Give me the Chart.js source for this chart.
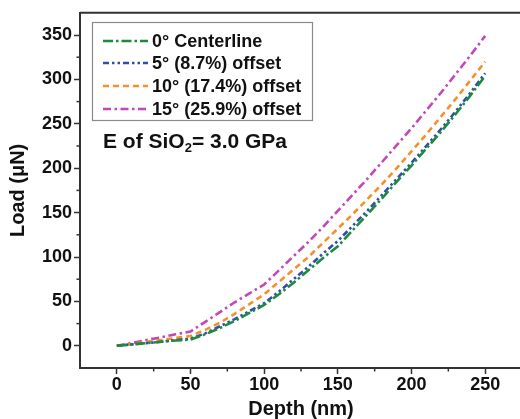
<!DOCTYPE html>
<html><head><meta charset="utf-8">
<script src="https://cdn.jsdelivr.net/npm/chart.js@4"></script>
<style>html,body{margin:0;padding:0;background:#fff;}#wrap{width:520px;height:419px;overflow:hidden;position:relative;}canvas{display:block;}</style>
</head><body>
<div id="wrap"><canvas id="c" width="526" height="419" style="width:526px;height:419px"></canvas></div>
<script>
const depth = [0,10,20,30,40,50,60,70,80,90,100,110,120,130,140,150,160,170,180,190,200,210,220,230,240,250];
const load0  = [0,1.5,3,4.5,6,7,13,20,28,37,46,58,71,85,99,112,130,148,166,185,203,222,241,261,282,304];
const load5  = [0,1.5,3,4.5,6.5,8,14,22,30,39,48,61,75,89,104,118,135,152,170,188,206,225,244,264,285,307];
const load10 = [0,2,4.5,6.5,9,11,18,26,36,47,58,72,86,100,116,132,148,165,182,200,219,238,258,278,299,320];
const load15 = [0,3,6.5,9.5,13,16,27,38,49,59,69,85,101,117,134,152,170,188,207,226,245,265,285,306,327,349];
const seriesLabels = ['0° Centerline','5° (8.7%) offset','10° (17.4%) offset','15° (25.9%) offset'];
const xTicks = [0,50,100,150,200,250];
const yTicks = [0,50,100,150,200,250,300,350];
const xMinor = [25,75,125,175,225];
const yMinor = [25,75,125,175,225,275,325];

const colors = ['#1f8a3c','#2c4fae','#f5902c','#c447b8'];
const dashes = [[10,3,2.5,3],[6,3,2.5,3,2.5,3],[6,4],[8,3.5,2.5,3.5]];
const FONT = "'Liberation Sans', Arial, sans-serif";
const allData = [load0, load5, load10, load15];

const datasets = allData.map((arr, i) => ({
  label: seriesLabels[i],
  data: depth.map((d, j) => ({x: d, y: arr[j]})),
  borderColor: colors[i],
  backgroundColor: colors[i],
  borderWidth: 2.6,
  borderDash: dashes[i],
  pointRadius: 0,
  tension: 0,
  fill: false
}));

const extras = {
  id: 'extras',
  afterDraw(chart) {
    const ctx = chart.ctx, ca = chart.chartArea;
    const xs = chart.scales.x, ys = chart.scales.y;
    ctx.save();
    ctx.strokeStyle = '#333'; ctx.lineWidth = 2;
    ctx.beginPath(); ctx.moveTo(ca.left, ca.top); ctx.lineTo(ca.right, ca.top); ctx.lineTo(ca.right, ca.bottom); ctx.stroke();
    ctx.lineWidth = 1.5;
    xMinor.forEach(v => { const px = xs.getPixelForValue(v); ctx.beginPath(); ctx.moveTo(px, ca.bottom); ctx.lineTo(px, ca.bottom + 3.5); ctx.stroke(); });
    yMinor.forEach(v => { const py = ys.getPixelForValue(v); ctx.beginPath(); ctx.moveTo(ca.left, py); ctx.lineTo(ca.left - 3.5, py); ctx.stroke(); });
    ctx.strokeStyle = '#8a8a8a'; ctx.lineWidth = 1.2;
    ctx.strokeRect(92.5, 22.5, 220, 98);
    const rows = [41, 63, 86, 109];
    const base = [47, 69, 92, 115];
    ctx.font = "bold 18px " + FONT;
    ctx.textBaseline = 'alphabetic'; ctx.textAlign = 'left';
    rows.forEach((ry, i) => {
      ctx.strokeStyle = colors[i]; ctx.lineWidth = 2.6; ctx.setLineDash(dashes[i]);
      ctx.beginPath(); ctx.moveTo(103, ry); ctx.lineTo(148, ry); ctx.stroke();
      ctx.setLineDash([]);
      ctx.fillStyle = '#111';
      ctx.fillText(seriesLabels[i], 152, base[i]);
    });
    ctx.fillStyle = '#111';
    ctx.font = "bold 21px " + FONT;
    let x = 103; const y = 148;
    const t1 = 'E of SiO';
    ctx.fillText(t1, x, y); x += ctx.measureText(t1).width;
    ctx.font = "bold 13px " + FONT;
    ctx.fillText('2', x, y + 4); x += ctx.measureText('2').width;
    ctx.font = "bold 21px " + FONT;
    ctx.fillText('= 3.0 GPa', x, y);
    ctx.restore();
  }
};

new Chart(document.getElementById('c'), {
  type: 'line',
  data: { datasets },
  options: {
    responsive: false,
    animation: false,
    layout: { padding: { left: 0, top: 12, right: 4, bottom: 0 } },
    plugins: { legend: { display: false }, tooltip: { enabled: false } },
    scales: {
      x: {
        type: 'linear', min: -25, max: 275,
        afterBuildTicks: s => { s.ticks = xTicks.map(v => ({value: v})); },
        afterFit: s => { s.height = 51; },
        border: { color: '#333', width: 2 },
        grid: { drawOnChartArea: false, drawTicks: true, tickLength: 6, tickColor: '#333', tickWidth: 1.5 },
        ticks: { color: '#111', font: { family: FONT, size: 18, weight: 'bold' }, padding: 0, maxRotation: 0, autoSkip: false },
        title: { display: true, text: 'Depth (nm)', color: '#111', font: { family: FONT, size: 20, weight: 'bold', lineHeight: 1 }, padding: { top: 0, bottom: 0 } }
      },
      y: {
        type: 'linear', min: -25, max: 375,
        afterBuildTicks: s => { s.ticks = yTicks.map(v => ({value: v})); },
        afterFit: s => { s.width = 80; },
        border: { color: '#333', width: 2 },
        grid: { drawOnChartArea: false, drawTicks: true, tickLength: 6, tickColor: '#333', tickWidth: 1.5 },
        ticks: { color: '#111', font: { family: FONT, size: 18, weight: 'bold' }, padding: 2, autoSkip: false },
        title: { display: true, text: 'Load (μN)', color: '#111', font: { family: FONT, size: 20, weight: 'bold' }, padding: { top: 6, bottom: 0 } }
      }
    }
  },
  plugins: [extras]
});
</script>
</body></html>
